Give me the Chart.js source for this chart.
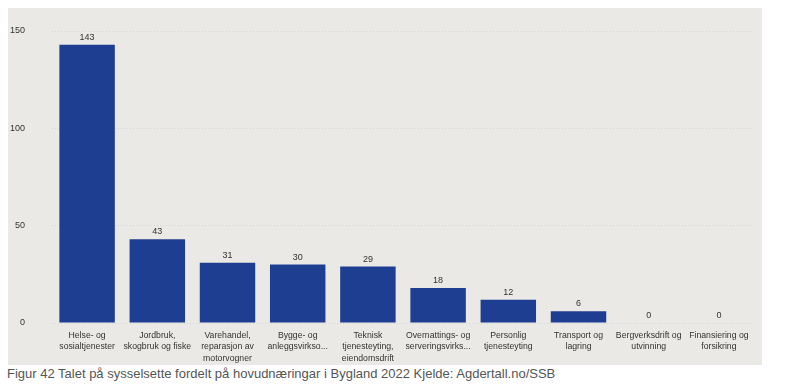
<!DOCTYPE html>
<html>
<head>
<meta charset="utf-8">
<script src="https://cdn.jsdelivr.net/npm/chart.js@4/dist/chart.umd.min.js"></script>
<style>
  html, body { margin: 0; padding: 0; background: #fff; }
  body { width: 811px; height: 388px; position: relative; overflow: hidden; }
  #panel { position: absolute; left: 8px; top: 8px; width: 754px; height: 357px; background: #eae9e6; }
  #panel canvas { display: block; }
  #caption { position: absolute; left: 7px; top: 366px; font-family: "Liberation Sans", Arial, sans-serif; font-size: 13px; color: #555; white-space: nowrap; }
</style>
</head>
<body>
<div id="panel"><canvas id="chart" width="754" height="357"></canvas></div>
<div id="caption">Figur 42 Talet på sysselsette fordelt på hovudnæringar i Bygland 2022 Kjelde: Agdertall.no/SSB</div>
<script>
const categories = [
  ["Helse- og", "sosialtjenester"],
  ["Jordbruk,", "skogbruk og fiske"],
  ["Varehandel,", "reparasjon av", "motorvogner"],
  ["Bygge- og", "anleggsvirkso..."],
  ["Teknisk", "tjenesteyting,", "eiendomsdrift"],
  ["Overnattings- og", "serveringsvirks..."],
  ["Personlig", "tjenesteyting"],
  ["Transport og", "lagring"],
  ["Bergverksdrift og", "utvinning"],
  ["Finansiering og", "forsikring"],
];
const employed = [143, 43, 31, 30, 29, 18, 12, 6, 0, 0];
const yTicks = [0, 50, 100, 150];

// draws the value above each bar
const valueLabels = {
  id: "valueLabels",
  afterDatasetsDraw(chart) {
    const ctx = chart.ctx;
    const meta = chart.getDatasetMeta(0);
    ctx.save();
    ctx.font = "9px 'Liberation Sans', Arial, sans-serif";
    ctx.fillStyle = "#333";
    ctx.textAlign = "center";
    ctx.textBaseline = "bottom";
    meta.data.forEach((bar, i) => {
      ctx.fillText(String(employed[i]), bar.x, bar.y - 3);
    });
    ctx.restore();
  },
};

const config = {
  type: "bar",
  data: {
    labels: categories,
    datasets: [
      {
        label: "Sysselsette",
        data: employed,
        backgroundColor: "#1e3f91",
        borderWidth: 0,
        categoryPercentage: 1,
        barPercentage: 0.79,
      },
    ],
  },
  options: {
    responsive: false,
    animation: false,
    layout: {
      padding: { left: 0, right: 8, top: 23, bottom: 0 },
    },
    plugins: {
      legend: { display: false },
      tooltip: { enabled: false },
    },
    scales: {
      x: {
        afterFit(scale) {
          scale.height = 42;
        },
        grid: { display: false, drawTicks: false },
        border: { display: false },
        ticks: {
          color: "#333",
          font: { family: "'Liberation Sans', Arial, sans-serif", size: 8.7, lineHeight: 1.3 },
          padding: 7,
          maxRotation: 0,
          autoSkip: false,
        },
      },
      y: {
        min: 0,
        max: 150,
        afterBuildTicks(scale) {
          scale.ticks = yTicks.map((v) => ({ value: v }));
        },
        afterFit(scale) {
          scale.width = 44;
          scale.paddingTop = 0;
          scale.paddingBottom = 0;
        },
        grid: {
          color: "#d6d6d6",
          drawTicks: false,
        },
        border: { display: false, dash: [1, 2] },
        ticks: {
          color: "#333",
          font: { family: "'Liberation Sans', Arial, sans-serif", size: 9 },
          padding: 27,
        },
      },
    },
  },
  plugins: [valueLabels],
};

var myChart = new Chart(document.getElementById("chart"), config);
</script>
</body>
</html>
